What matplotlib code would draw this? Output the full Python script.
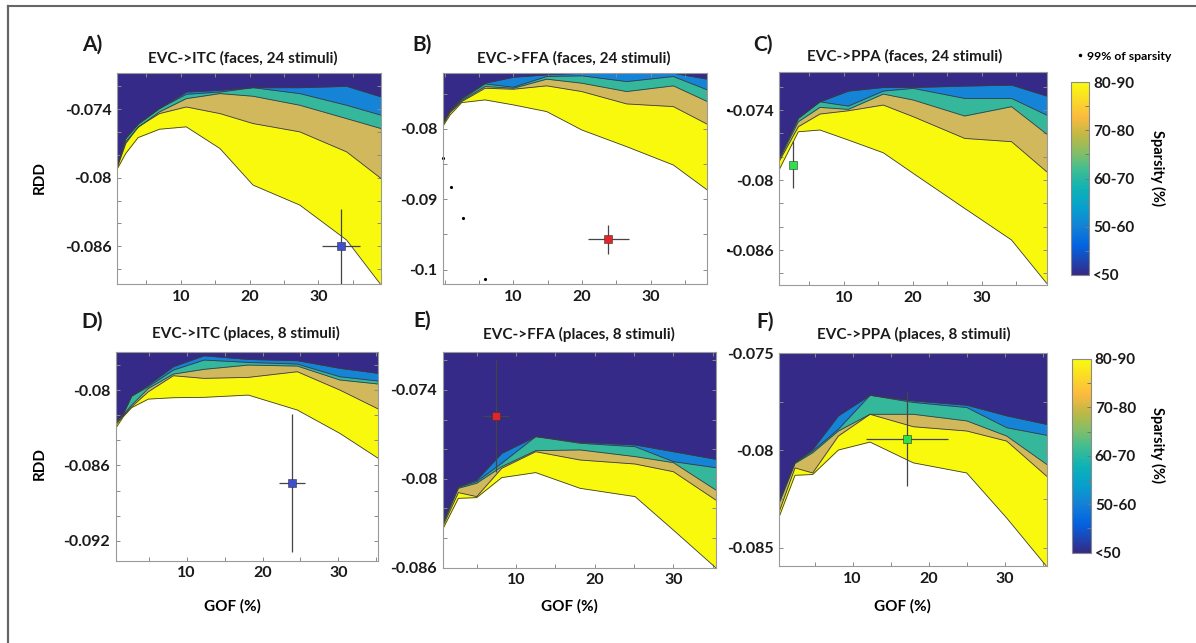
import matplotlib
matplotlib.use('Agg')
import matplotlib.pyplot as plt
from matplotlib.colors import LinearSegmentedColormap, Normalize
from matplotlib.cm import ScalarMappable
from matplotlib.lines import Line2D
from matplotlib.ticker import MultipleLocator

plt.rcParams['font.family'] = ['Lato', 'DejaVu Sans']
plt.rcParams['font.weight'] = 'bold'

# limites entre niveles de sparsity (<50 | 50-60 | 60-70 | 70-80 | 80-90 | vacio)
# A) EVC->ITC (faces, 24 stimuli)
gof_a = [0.73, 2.0, 3.8, 6.9, 10.8, 15.7, 20.5, 27.3, 34.1, 39.1]
a_lim50 = [-0.07904, -0.07656, -0.07531, -0.07394, -0.07249, -0.07234, -0.07211, -0.07211, -0.07199, -0.07292]
a_lim60 = [-0.07904, -0.07656, -0.07531, -0.07394, -0.07269, -0.07249, -0.07211, -0.07263, -0.07365, -0.07452]
a_lim70 = [-0.07908, -0.07685, -0.0756, -0.07423, -0.07307, -0.07263, -0.07286, -0.07365, -0.07482, -0.07569]
a_lim80 = [-0.07918, -0.0770, -0.07554, -0.07438, -0.0738, -0.07438, -0.07525, -0.07598, -0.07773, -0.08006]
a_lim90 = [-0.07927, -0.07787, -0.07648, -0.07575, -0.07554, -0.07744, -0.08064, -0.08239, -0.08545, -0.08938]

# B) EVC->FFA (faces, 24 stimuli)
gof_b = [-0.3, 0.78, 2.48, 5.87, 10.0, 14.85, 19.95, 26.5, 33.3, 38.25]
b_lim50 = [-0.07919, -0.07729, -0.07563, -0.07349, -0.07264, -0.0723, -0.07207, -0.07197, -0.07207, -0.07292]
b_lim60 = [-0.07919, -0.07739, -0.07577, -0.07359, -0.07406, -0.07254, -0.07244, -0.07326, -0.07254, -0.07444]
b_lim70 = [-0.07929, -0.07753, -0.07596, -0.07397, -0.07421, -0.07292, -0.07349, -0.07468, -0.07387, -0.0761]
b_lim80 = [-0.07943, -0.07767, -0.0761, -0.07421, -0.07435, -0.07387, -0.07468, -0.07644, -0.07682, -0.07933]
b_lim90 = [-0.07967, -0.07801, -0.07625, -0.07587, -0.07658, -0.07753, -0.08014, -0.08252, -0.08513, -0.08869]
# puntos con 99% de sparsity
b_dots_x = [-0.19, 0.87, 2.72, 5.92, 41.3, 41.3]
b_dots_y = [-0.08409, -0.08827, -0.09273, -0.10138, -0.0773, -0.09724]

# C) EVC->PPA (faces, 24 stimuli)
gof_c = [0.58, 3.38, 6.52, 10.63, 15.7, 20.05, 27.5, 34.3, 39.4]
c_lim50 = [-0.07814, -0.07471, -0.07329, -0.07237, -0.07206, -0.07206, -0.07194, -0.07186, -0.0728]
c_lim60 = [-0.07814, -0.07471, -0.07329, -0.07366, -0.07237, -0.07214, -0.073, -0.073, -0.07443]
c_lim70 = [-0.07829, -0.0750, -0.07377, -0.07394, -0.07263, -0.07314, -0.07451, -0.07371, -0.07606]
c_lim80 = [-0.07843, -0.07543, -0.07434, -0.07406, -0.07357, -0.07457, -0.07643, -0.07671, -0.07929]
c_lim90 = [-0.07914, -0.07586, -0.07571, -0.07657, -0.07766, -0.07943, -0.08243, -0.08514, -0.08886]

# D) EVC->ITC (places, 8 stimuli)
gof_d = [0.64, 1.65, 2.75, 4.95, 8.24, 12.29, 18.13, 24.59, 30.2, 35.27]
d_lim50 = [-0.08252, -0.08186, -0.08048, -0.0796, -0.07814, -0.07727, -0.07756, -0.07766, -0.07827, -0.07867]
d_lim60 = [-0.08252, -0.08191, -0.08048, -0.07973, -0.07841, -0.07761, -0.0778, -0.07793, -0.07894, -0.07928]
d_lim70 = [-0.08266, -0.08199, -0.08119, -0.07987, -0.07873, -0.07835, -0.07801, -0.07809, -0.0792, -0.07952]
d_lim80 = [-0.08279, -0.08204, -0.08133, -0.08013, -0.07886, -0.07907, -0.07899, -0.07854, -0.08, -0.08151]
d_lim90 = [-0.08305, -0.08212, -0.0814, -0.08072, -0.08061, -0.08058, -0.0804, -0.08159, -0.08345, -0.08544]

# E) EVC->FFA (places, 8 stimuli)
gof_e = [0.68, 2.67, 5.0, 8.18, 12.5, 18.14, 25.13, 30.0, 35.38]
e_lim50 = [-0.08289, -0.08053, -0.08008, -0.07828, -0.07715, -0.07753, -0.07771, -0.07817, -0.07868]
e_lim60 = [-0.08301, -0.08057, -0.08019, -0.07895, -0.07715, -0.0776, -0.07783, -0.07884, -0.07925]
e_lim70 = [-0.08312, -0.08064, -0.0803, -0.07918, -0.0781, -0.07805, -0.0785, -0.07891, -0.08075]
e_lim80 = [-0.08323, -0.08093, -0.0812, -0.07929, -0.07817, -0.07873, -0.079, -0.07952, -0.08143]
e_lim90 = [-0.08341, -0.08132, -0.08127, -0.07992, -0.07958, -0.08064, -0.0812, -0.08346, -0.086]

# F) EVC->PPA (places, 8 stimuli)
gof_f = [0.37, 2.43, 4.75, 8.12, 12.28, 17.96, 24.97, 30.22, 35.47]
f_lim50 = [-0.08253, -0.0806, -0.07995, -0.07822, -0.07716, -0.07745, -0.07767, -0.07822, -0.07866]
f_lim60 = [-0.08262, -0.08064, -0.08003, -0.07891, -0.07716, -0.07753, -0.07779, -0.07883, -0.07922]
f_lim70 = [-0.08271, -0.08067, -0.08012, -0.079, -0.07814, -0.07814, -0.07848, -0.07926, -0.08072]
f_lim80 = [-0.08314, -0.0809, -0.08116, -0.07926, -0.07814, -0.07878, -0.079, -0.07952, -0.08133]
f_lim90 = [-0.0834, -0.08128, -0.08124, -0.07998, -0.07957, -0.08064, -0.08116, -0.08348, -0.08598]

# datos observados (GOF, RDD) con sus errores
obs_gof = [33.3, 23.8, 2.56, 23.89, 7.46, 17.09]
obs_rdd = [-0.086, -0.09572, -0.07869, -0.08743, -0.07573, -0.0794]
obs_gof_err = [2.75, 3.0, 0.0, 1.75, 1.63, 5.4]
obs_rdd_err = [0.00326, 0.002, 0.00203, 0.0055, 0.00378, 0.00244]

titles = ['EVC->ITC (faces, 24 stimuli)', 'EVC->FFA (faces, 24 stimuli)', 'EVC->PPA (faces, 24 stimuli)',
          'EVC->ITC (places, 8 stimuli)', 'EVC->FFA (places, 8 stimuli)', 'EVC->PPA (places, 8 stimuli)']
letters = ['A)', 'B)', 'C)', 'D)', 'E)', 'F)']
yticks = [[-0.086, -0.08, -0.074], [-0.1, -0.09, -0.08], [-0.086, -0.08, -0.074],
          [-0.092, -0.086, -0.08], [-0.086, -0.08, -0.074], [-0.085, -0.08, -0.075]]
ytick_labels = [['-0.086', '-0.08', '-0.074'], ['-0.1', '-0.09', '-0.08'], ['-0.086', '-0.08', '-0.074'],
                ['-0.092', '-0.086', '-0.08'], ['-0.086', '-0.08', '-0.074'], ['-0.085', '-0.08', '-0.075']]
xticks = [10, 20, 30]
spars_labels = ['<50', '50-60', '60-70', '70-80', '80-90']

W, H = 1196, 643
def fx(px):
    return px / W
def fy(py):
    return 1 - py / H
def box(l, t, r, b):
    return [fx(l), fy(b), (r - l) / W, (b - t) / H]

navy = '#352a87'
fills = ['#1684d6', '#35b79c', '#d2b85c', '#f9f90e', 'white']
mk_colors = ['#3f4fcf', '#e3242b', '#2ee04a', '#3f4fcf', '#e3242b', '#2ee04a']
parula = LinearSegmentedColormap.from_list('parula', [
    (0.0, (0.2081, 0.1663, 0.5292)), (0.15, (0.0116, 0.3875, 0.8820)),
    (0.25, (0.0779, 0.5040, 0.8384)), (0.35, (0.0238, 0.6287, 0.8038)),
    (0.45, (0.0589, 0.6997, 0.7074)), (0.55, (0.2586, 0.7417, 0.5708)),
    (0.63, (0.5044, 0.7450, 0.4122)), (0.72, (0.7357, 0.7242, 0.2741)),
    (0.82, (0.9892, 0.7300, 0.2465)), (1.0, (0.9763, 0.9831, 0.0538))])

panels = [
    (gof_a, [a_lim50, a_lim60, a_lim70, a_lim80, a_lim90], (0.73, 39.1), (-0.0893, -0.0708), 0.002, box(117, 72.7, 381, 284)),
    (gof_b, [b_lim50, b_lim60, b_lim70, b_lim80, b_lim90], (-0.3, 38.25), (-0.1021, -0.0720), 0.005, box(442.7, 72.7, 707.3, 284.3)),
    (gof_c, [c_lim50, c_lim60, c_lim70, c_lim80, c_lim90], (0.58, 39.4), (-0.0890, -0.07071), 0.002, box(779, 71.7, 1046.7, 285)),
    (gof_d, [d_lim50, d_lim60, d_lim70, d_lim80, d_lim90], (0.64, 35.27), (-0.09359, -0.07697), 0.002, box(115.7, 352, 378.3, 560.7)),
    (gof_e, [e_lim50, e_lim60, e_lim70, e_lim80, e_lim90], (0.68, 35.38), (-0.086, -0.07146), 0.002, box(442.7, 352.3, 715.7, 567.7)),
    (gof_f, [f_lim50, f_lim60, f_lim70, f_lim80, f_lim90], (0.37, 35.47), (-0.08595, -0.075), 0.0025, box(779.3, 353.3, 1046.7, 566)),
]
title_pos = [(243, 58), (574, 58), (905, 56), (246, 333), (579, 334), (914, 334)]
letter_pos = [(92, 45), (422, 45), (763, 45), (92, 322), (422, 321), (765, 322)]

fig = plt.figure(figsize=(11.96, 6.43), dpi=100)

for i, (gof, lims, xl, yl, ymin_step, pos) in enumerate(panels):
    ax = fig.add_axes(pos)
    ax.set_facecolor(navy)
    for lim, col in zip(lims, fills):
        ax.fill_between(gof, lim, yl[0], color=col, lw=0)
    for lim in lims:
        ax.plot(gof, lim, color='#3c3c3c', lw=0.6)
    if i == 1:
        ax.plot(b_dots_x, b_dots_y, ls='', marker='.', ms=2.5, color='k', clip_on=False)
    ax.errorbar(obs_gof[i], obs_rdd[i], xerr=obs_gof_err[i], yerr=obs_rdd_err[i], fmt='s',
                ms=5.5, color=mk_colors[i], mec='#333333', mew=0.4, ecolor='#444444',
                elinewidth=0.9, capsize=0, zorder=5)
    ax.set_xlim(xl)
    ax.set_ylim(yl)
    ax.set_xticks(xticks)
    ax.set_xticklabels([str(t) for t in xticks])
    ax.set_yticks(yticks[i])
    ax.set_yticklabels(ytick_labels[i])
    ax.xaxis.set_minor_locator(MultipleLocator(5))
    ax.yaxis.set_minor_locator(MultipleLocator(ymin_step))
    ax.tick_params(which='both', direction='in', top=True, right=True, length=3,
                   color='#8a8a8a', width=0.7)
    ax.tick_params(labelsize=11.5, pad=4, labelcolor='#1a1a1a')
    for s in ax.spines.values():
        s.set_color('#9a9a9a')
        s.set_linewidth(0.8)
    fig.text(fx(title_pos[i][0]), fy(title_pos[i][1]), titles[i], ha='center', va='center',
             fontsize=11, fontweight='bold', color='#1a1a1a')
    fig.text(fx(letter_pos[i][0]), fy(letter_pos[i][1]), letters[i], ha='center', va='center',
             fontsize=15, fontweight='bold', color='#1a1a1a')

# etiquetas de ejes
fig.text(fx(40), fy(177), 'RDD', rotation=90, ha='center', va='center', fontsize=11, fontweight='bold')
fig.text(fx(40), fy(463), 'RDD', rotation=90, ha='center', va='center', fontsize=11, fontweight='bold')
for gx in [232, 569, 902]:
    fig.text(fx(gx), fy(606), 'GOF (%)', ha='center', va='center', fontsize=11, fontweight='bold')

# barras de color
for cb_box, lab_y in [(box(1070.7, 82, 1089, 275), 168), (box(1072, 359, 1090.7, 552.7), 445)]:
    cax = fig.add_axes(cb_box)
    cb = fig.colorbar(ScalarMappable(norm=Normalize(0, 1), cmap=parula), cax=cax,
                      ticks=[0, 0.25, 0.5, 0.75, 1])
    cb.set_ticklabels(spars_labels)
    cb.ax.yaxis.set_minor_locator(MultipleLocator(0.125))
    cb.ax.tick_params(which='both', direction='in', length=3, color='#777777', width=0.7)
    cb.ax.tick_params(labelsize=11, pad=3, labelcolor='#1a1a1a')
    cb.outline.set_edgecolor('#8a8a8a')
    cb.outline.set_linewidth(0.8)
    fig.text(fx(1158), fy(lab_y), 'Sparsity (%)', rotation=270, ha='center', va='center',
             fontsize=10.5, fontweight='bold')

fig.legend(handles=[Line2D([], [], ls='', marker='.', ms=3, color='k')], labels=['99% of sparsity'],
           loc='center left', bbox_to_anchor=(fx(1070), fy(56)), frameon=False,
           handlelength=0.6, handletextpad=0.3, borderpad=0, prop={'size': 8.8, 'weight': 'bold'})

# marco
fig.add_artist(Line2D([fx(8), 1], [fy(6), fy(6)], color='#666666', lw=1.5))
fig.add_artist(Line2D([fx(8), fx(8)], [fy(6), 0], color='#666666', lw=1.6))

fig.savefig('out.png', dpi=100)
